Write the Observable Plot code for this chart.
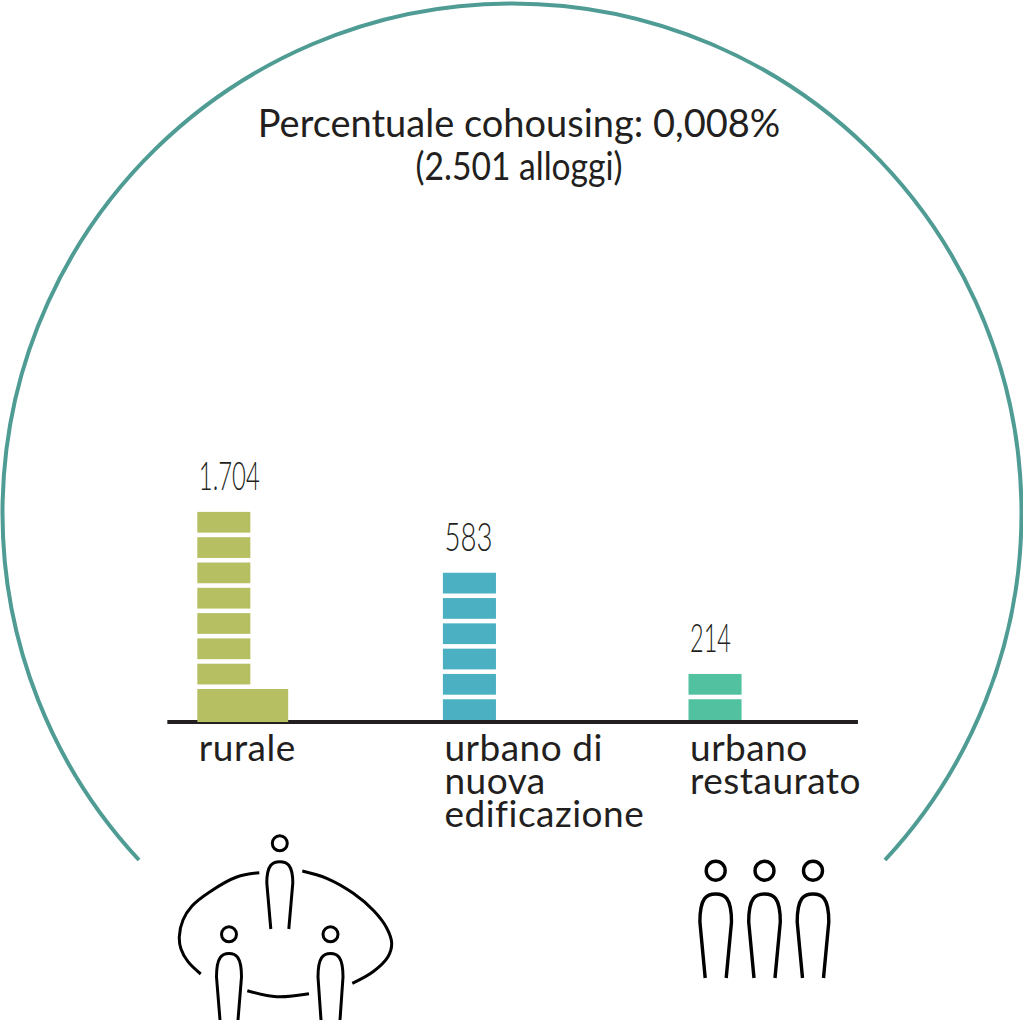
<!DOCTYPE html>
<html lang="it">
<head>
<meta charset="utf-8">
<script src="https://cdn.jsdelivr.net/npm/d3@7"></script>
<script src="https://cdn.jsdelivr.net/npm/@observablehq/plot@0.6"></script>
<style>html,body{margin:0;padding:0;background:#fff}svg{display:block}</style>
</head>
<body>
<div id="chart"></div>
<script>
const categories = ["rurale", "urbano di\nnuova\nedificazione", "urbano\nrestaurato"];
const values = [1704, 583, 214];
const valueLabels = ["1.704", "583", "214"];
const valueLabelWidths = [61, 48, 41];
const hundredBlocks = [7, 6, 2];
const thousandBlocks = [1, 0, 0];
const colors = ["#b7bf63", "#4bb0c1", "#52c1a0"];
const titleLines = ["Percentuale cohousing: 0,008%", "(2.501 alloggi)"];

// Layout of the stacked blocks, in block units (one unit = one stack step)
const GAP = 0.18, WIDE = 1.225, BAR = 0.216, WIDEBAR = 0.37, BASE_OVERLAP = 0.08;

const blocks = [];
const tops = [];
categories.forEach((c, i) => {
  let base = 0;
  for (let k = 0; k < thousandBlocks[i]; k++) {
    blocks.push({i, x1: i, x2: i + WIDEBAR, y1: base - BASE_OVERLAP, y2: base + WIDE});
    base += WIDE + GAP;
  }
  for (let k = 0; k < hundredBlocks[i]; k++) {
    blocks.push({i, x1: i, x2: i + BAR, y1: base, y2: base + 1 - GAP});
    base += 1;
  }
  tops.push({i, label: valueLabels[i], value: values[i], top: base - GAP});
});
const labels = categories.map((label, i) => ({i, label}));

const INK = "#231f20", ARC = "#4f9c94";
const FONT = "Lato, 'Noto Sans', sans-serif";

// Squeeze each text of a mark to a given width, keeping it real text
const fitWidths = widths => (index, scales, channels, dimensions, context, next) => {
  const g = next(index, scales, channels, dimensions, context);
  d3.select(g).selectAll("text").each(function (_, n) {
    this.setAttribute("textLength", widths[n]);
    this.setAttribute("lengthAdjust", "spacingAndGlyphs");
  });
  return g;
};
const tracking = px => (index, scales, channels, dimensions, context, next) => {
  const g = next(index, scales, channels, dimensions, context);
  g.setAttribute("letter-spacing", px);
  return g;
};

// Decorative frame and pictograms
function decoration() {
  const g = d3.create("svg:g").attr("fill", "none");
  const R = 509.5;
  g.append("path")
    .attr("d", `M139,860 A${R},${R} 0 1 1 885,860`)
    .attr("stroke", ARC).attr("stroke-width", 4);
  const person = (cx, headY, r, top, sideY, hw, bottom, bw, sw) => {
    g.append("circle").attr("cx", cx).attr("cy", headY).attr("r", r)
      .attr("stroke", "#000").attr("stroke-width", sw);
    g.append("path").attr("stroke", "#000").attr("stroke-width", sw)
      .attr("d", `M${cx - bw},${bottom} L${cx - hw},${sideY} C${cx - hw},${top + 3} ${cx - hw * .55},${top} ${cx},${top} C${cx + hw * .55},${top} ${cx + hw},${top + 3} ${cx + hw},${sideY} L${cx + bw},${bottom}`);
  };
  [715.7, 764.5, 813].forEach(cx => person(cx, 870.7, 9.5, 894, 922, 15.8, 978, 10.5, 3.4));
  person(279.8, 843.3, 7.5, 861.7, 883, 13, 929, 9, 3);
  person(229, 934.3, 7.5, 953.5, 977, 12.5, 1020, 9, 3);
  person(330.5, 934.3, 7.5, 953.5, 977, 12.5, 1020, 9.5, 3);
  const line = d3.line().curve(d3.curveCatmullRom);
  const stroke = pts => g.append("path").attr("d", line(pts)).attr("stroke", "#000").attr("stroke-width", 3);
  stroke([[259.3, 872.7], [236.7, 877], [210, 891.7], [192, 906], [183, 920], [179.3, 936.7], [181, 949], [188, 961.7], [200.7, 974]]);
  stroke([[302.3, 871], [326.7, 878.3], [353.3, 893.3], [374, 911], [386.7, 928], [391.7, 943.3], [388, 956.7], [373, 971.7], [352.3, 983.3]]);
  stroke([[247.3, 990.7], [276.7, 996.7], [309, 993.7]]);
  return g.node();
}

const plot = Plot.plot({
  width: 1023,
  height: 1024,
  margin: 0,
  style: {background: "#fff", overflow: "visible"},
  x: {type: "linear", domain: [0, 1], range: [197.3, 442.9], axis: null},
  y: {type: "linear", domain: [0, 1], range: [720, 694.7], axis: null},
  marks: [
    decoration,
    Plot.ruleY([-0.06], {x1: -0.122, x2: 2.69, stroke: INK, strokeWidth: 4}),
    Plot.rect(blocks, {x1: "x1", x2: "x2", y1: "y1", y2: "y2", fill: d => colors[d.i]}),
    Plot.text(tops, {
      x: "i", y: "top", text: "label", textAnchor: "start", dx: 1, dy: -35,
      fontFamily: FONT, fontSize: 39, fontWeight: 300, fill: INK,
      render: fitWidths(valueLabelWidths)
    }),
    Plot.text(labels, {
      x: "i", y: 0, text: "label", textAnchor: "start", lineAnchor: "top", dx: 1, dy: 17,
      lineHeight: 0.89, fontFamily: FONT, fontSize: 37, fontWeight: 400, fill: INK,
      render: tracking(0.5)
    }),
    Plot.text([titleLines[0]], {
      frameAnchor: "top", dx: 7, dy: 110, lineAnchor: "top",
      fontFamily: FONT, fontSize: 38, fontWeight: 400, fill: INK
    }),
    Plot.text([titleLines[1]], {
      frameAnchor: "top", dx: 7, dy: 153, lineAnchor: "top",
      fontFamily: FONT, fontSize: 38, fontWeight: 400, fill: INK,
      render: fitWidths([207])
    })
  ]
});
document.getElementById("chart").append(plot);
</script>
</body>
</html>
